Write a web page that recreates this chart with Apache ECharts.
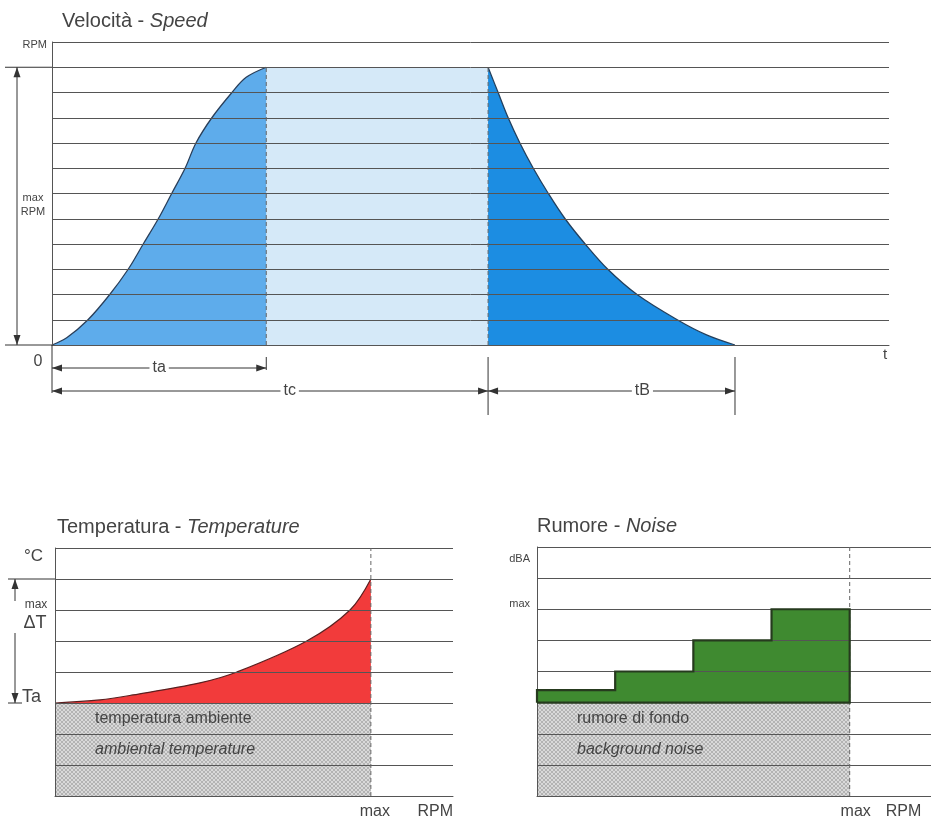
<!DOCTYPE html>
<html>
<head>
<meta charset="utf-8">
<script src="https://cdn.jsdelivr.net/npm/echarts@6/dist/echarts.min.js"></script>
<style>
html,body{margin:0;padding:0;background:#fff;}
#main{width:931px;height:823px;}
</style>
</head>
<body>
<div id="main"></div>
<script>
(function () {
// ---------- DATA ----------
// Speed chart (time axis 0..100, speed axis 0..12 grid steps)
const phaseEdges = [0, 25.6, 52.1, 81.6];      // start, end of ta, end of tc, end of tB
const phaseNames = ['ta', 'tc', 'tB'];
const maxRpmLevel = 11;
const rampCurve = [[0,0],[1.8,0.3],[4.3,1],[6.9,2],[9.1,3],[10.9,4],[12.7,5],[14.3,6],[15.9,7],[17.2,8],[19.1,9],[21.5,10],[23.2,10.6],[25.6,11]];
const decelCurve = [[52.1,11],[53.3,10],[54.5,9],[55.9,8],[57.5,7],[59.3,6],[61.3,5],[63.7,4],[66.4,3],[69.9,2],[74.7,1],[78.2,0.4],[81.6,0]];
const speedLabels = ['RPM', 'max\nRPM', '0', 't'];

// Temperature chart (RPM axis 0..126, max RPM = 100; level axis 0..8)
const maxRpmX = 100;
const ambientLevel = 3;
const tempCurve = [[0,3],[14.2,3.1],[24.7,3.26],[45.9,3.65],[57.6,4],[79.7,5],[93.4,6],[100,7]];
const tempLabels = ['°C', 'max', 'ΔT', 'Ta'];
const tempBandTexts = ['temperatura ambiente', 'ambiental temperature'];

// Noise chart
const backgroundLevel = 3;
const noiseSteps = [[0,3.4],[25,4],[50,5],[75,6],[100,6]];
const noiseLabels = ['dBA', 'max'];
const noiseBandTexts = ['rumore di fondo', 'background noise'];
const rpmAxisTexts = ['max', 'RPM'];

// ---------- STYLE ----------
const FONT = '"Liberation Sans", Arial, sans-serif';
const INK = '#444';
const GRIDC = '#555';

function hatch(base, ink) {
  const c = document.createElement('canvas');
  c.width = c.height = 4;
  const g = c.getContext('2d');
  g.fillStyle = base; g.fillRect(0,0,4,4);
  g.fillStyle = ink;
  for (let i = 0; i < 4; i++) { g.fillRect(i,i,1,1); g.fillRect(3-i,i,1,1); }
  return { image: c, repeat: 'repeat' };
}
const grayHatch = hatch('#d9d9d9', '#b3b3b3');

const chart = echarts.init(document.getElementById('main'), null, { renderer: 'canvas' });

function xAx(gi, max) {
  return { gridIndex: gi, type: 'value', min: 0, max: max, z: 3,
    axisLine: { show: true, onZero: false, lineStyle: { color: GRIDC, width: 1 } },
    axisTick: { show: false }, axisLabel: { show: false }, splitLine: { show: false } };
}
function yAx(gi, max) {
  return { gridIndex: gi, type: 'value', min: 0, max: max, interval: 1, z: 3,
    axisLine: { show: true, lineStyle: { color: GRIDC, width: 1 } },
    axisTick: { show: false }, axisLabel: { show: false },
    splitLine: { show: true, lineStyle: { color: GRIDC, width: 1 } } };
}
function vDash(xi, x, y0, y1) {
  return { type: 'line', xAxisIndex: xi, yAxisIndex: xi, data: [[x, y0], [x, y1]], symbol: 'none', z: 4,
    lineStyle: { color: '#666', width: 1, type: [4, 3] }, silent: true };
}

const noiseOutline = [[0, backgroundLevel]];
noiseSteps.forEach((p, i) => {
  if (i > 0) noiseOutline.push([p[0], noiseSteps[i-1][1]]);
  noiseOutline.push(p);
});
noiseOutline.push([noiseSteps[noiseSteps.length-1][0], backgroundLevel]);
noiseOutline.push([0, backgroundLevel]);

const titleStyle = { fontFamily: FONT, fontSize: 20, fontWeight: 'normal', color: INK,
  rich: { i: { fontFamily: FONT, fontSize: 20, fontStyle: 'italic', color: INK } } };

const option = {
  animation: false,
  backgroundColor: '#fff',
  title: [
    { text: 'Velocità - {i|Speed}', left: 62, top: 11, padding: 0, textStyle: titleStyle },
    { text: 'Temperatura - {i|Temperature}', left: 57, top: 517, padding: 0, textStyle: titleStyle },
    { text: 'Rumore - {i|Noise}', left: 537, top: 516, padding: 0, textStyle: titleStyle }
  ],
  grid: [
    { left: 52, top: 42, width: 837, height: 303 },
    { left: 55, top: 548, width: 398, height: 248 },
    { left: 537, top: 547, width: 394, height: 249 }
  ],
  xAxis: [xAx(0, 100), xAx(1, 126), xAx(2, 126)],
  yAxis: [yAx(0, 12), yAx(1, 8), yAx(2, 8)],
  series: [
    // speed
    { type: 'line', xAxisIndex: 0, yAxisIndex: 0, data: [[phaseEdges[1], maxRpmLevel], [phaseEdges[2], maxRpmLevel]],
      symbol: 'none', lineStyle: { width: 0 }, areaStyle: { color: '#d5e9f8', opacity: 1 }, z: 2 },
    { type: 'line', xAxisIndex: 0, yAxisIndex: 0, data: rampCurve, smooth: 0.35,
      symbol: 'none', lineStyle: { color: '#2a3f5a', width: 1.3 }, areaStyle: { color: '#5eaceb', opacity: 1 }, z: 2 },
    { type: 'line', xAxisIndex: 0, yAxisIndex: 0, data: decelCurve, smooth: 0.35,
      symbol: 'none', lineStyle: { color: '#23405e', width: 1.3 }, areaStyle: { color: '#1c8de2', opacity: 1 }, z: 2 },
    vDash(0, phaseEdges[1], 0, maxRpmLevel),
    vDash(0, phaseEdges[2], 0, maxRpmLevel),
    // temperature
    { type: 'line', xAxisIndex: 1, yAxisIndex: 1, data: [[0, ambientLevel], [maxRpmX, ambientLevel]],
      symbol: 'none', lineStyle: { width: 0 }, areaStyle: { color: grayHatch, opacity: 1 }, z: 2 },
    { type: 'line', xAxisIndex: 1, yAxisIndex: 1, data: tempCurve, smooth: 0.35,
      symbol: 'none', lineStyle: { color: '#5a1f1f', width: 1.2 }, areaStyle: { color: '#f23b3b', opacity: 1, origin: ambientLevel }, z: 2 },
    vDash(1, maxRpmX, 0, 8),
    // noise
    { type: 'line', xAxisIndex: 2, yAxisIndex: 2, data: [[0, backgroundLevel], [maxRpmX, backgroundLevel]],
      symbol: 'none', lineStyle: { width: 0 }, areaStyle: { color: grayHatch, opacity: 1 }, z: 2 },
    { type: 'line', xAxisIndex: 2, yAxisIndex: 2, data: noiseSteps, step: 'end',
      symbol: 'none', lineStyle: { width: 0 }, areaStyle: { color: '#3f8a30', opacity: 1, origin: backgroundLevel }, z: 2 },
    vDash(2, maxRpmX, 0, 8),
    { type: 'line', xAxisIndex: 2, yAxisIndex: 2, data: noiseOutline,
      symbol: 'none', lineStyle: { color: '#263a1e', width: 2.2, join: 'miter' }, z: 5 }
  ]
};
chart.setOption(option);

// ---------- ANNOTATIONS (positions via the chart's own scales) ----------
function P(gi, x, y) { return chart.convertToPixel({ gridIndex: gi }, [x, y]); }
const G = [];
const LC = '#333';
function line(x1, y1, x2, y2, w) {
  G.push({ type: 'line', z: 10, shape: { x1, y1, x2, y2 }, style: { stroke: LC, lineWidth: w || 1 } });
}
function head(x, y, dir) {
  const L = 10, H = 3.5;
  let pts;
  if (dir === 'left') pts = [[x, y], [x + L, y - H], [x + L, y + H]];
  if (dir === 'right') pts = [[x, y], [x - L, y - H], [x - L, y + H]];
  if (dir === 'up') pts = [[x, y], [x - H, y + L], [x + H, y + L]];
  if (dir === 'down') pts = [[x, y], [x - H, y - L], [x + H, y - L]];
  G.push({ type: 'polygon', z: 10, shape: { points: pts }, style: { fill: LC } });
}
function text(x, y, t, size, align, opts) {
  G.push({ type: 'text', z: 11, x, y, style: Object.assign({ text: t, fontSize: size, fontFamily: FONT, fill: INK,
    align: align || 'left', verticalAlign: 'middle' }, opts || {}) });
}

// speed chart
const o = P(0, 0, 0), sTop = P(0, 0, 12), m = P(0, 0, maxRpmLevel);
const xa = P(0, phaseEdges[1], 0)[0], xc = P(0, phaseEdges[2], 0)[0], xb = P(0, phaseEdges[3], 0)[0];
const sRight = P(0, 100, 0)[0];
const yb = o[1];
line(5, m[1], o[0], m[1]);
line(5, yb, o[0], yb);
line(17, m[1], 17, yb);
head(17, m[1], 'up'); head(17, yb, 'down');
text(47, sTop[1] + 3, speedLabels[0], 11, 'right');
text(33, (m[1] + yb) / 2 - 1, speedLabels[1], 11, 'center', { lineHeight: 14 });
text(38, yb + 17, speedLabels[2], 16, 'center');
text(sRight - 4, yb + 10, speedLabels[3], 15, 'center');
const ya = yb + 23, yc = yb + 46;
line(o[0], yb, o[0], yc + 2);
line(o[0], ya, xa, ya); head(o[0], ya, 'left'); head(xa, ya, 'right');
line(xa, yb + 12, xa, ya + 2);
line(o[0], yc, xc, yc); head(o[0], yc, 'left'); head(xc, yc, 'right');
line(xc, yb + 12, xc, yb + 70);
line(xc, yc, xb, yc); head(xc, yc, 'left'); head(xb, yc, 'right');
line(xb, yb + 12, xb, yb + 70);
const labelX = [ (o[0] + xa) / 2, o[0] + (xc - o[0]) * 0.545, xc + (xb - xc) * 0.625 ];
text(labelX[0], ya, phaseNames[0], 16, 'center', { backgroundColor: '#fff', padding: [0, 3] });
text(labelX[1], yc, phaseNames[1], 16, 'center', { backgroundColor: '#fff', padding: [0, 3] });
text(labelX[2], yc, phaseNames[2], 16, 'center', { backgroundColor: '#fff', padding: [0, 3] });

// temperature chart
const t0 = P(1, 0, 0), tTop = P(1, 0, 8), tMax = P(1, 0, tempCurve[tempCurve.length - 1][1]), tA = P(1, 0, ambientLevel);
const tRpm = P(1, maxRpmX, 0), tRight = P(1, 126, 0)[0];
line(8, tMax[1], t0[0], tMax[1]);
line(15, tMax[1], 15, tMax[1] + 22); head(15, tMax[1], 'up');
line(15, tA[1] - 70, 15, tA[1]); head(15, tA[1], 'down');
line(8, tA[1], 22, tA[1]);
text(43, tTop[1] + 8, tempLabels[0], 17, 'right');
text(36, tMax[1] + 26, tempLabels[1], 12, 'center');
text(35, tMax[1] + 44, tempLabels[2], 18, 'center');
text(22, tA[1] - 6, tempLabels[3], 18, 'left');
const band1 = P(1, 0, 2.5)[1], band2 = P(1, 0, 1.5)[1];
text(95, band1, tempBandTexts[0], 16, 'left');
text(95, band2, tempBandTexts[1], 16, 'left', { fontStyle: 'italic' });
text(tRpm[0] + 4, t0[1] + 16, rpmAxisTexts[0], 16, 'center');
text(tRight, t0[1] + 16, rpmAxisTexts[1], 16, 'right');

// noise chart
const n0 = P(2, 0, 0), nTop = P(2, 0, 8), nMax = P(2, 0, 6), nRpm = P(2, maxRpmX, 0);
text(530, nTop[1] + 12, noiseLabels[0], 11, 'right');
text(530, nMax[1] - 5, noiseLabels[1], 11, 'right');
const nb1 = P(2, 0, 2.5)[1], nb2 = P(2, 0, 1.5)[1];
text(577, nb1, noiseBandTexts[0], 16, 'left');
text(577, nb2, noiseBandTexts[1], 16, 'left', { fontStyle: 'italic' });
text(nRpm[0] + 6, n0[1] + 16, rpmAxisTexts[0], 16, 'center');
text(nRpm[0] + 36, n0[1] + 16, rpmAxisTexts[1], 16, 'left');

chart.setOption({ graphic: G });
})();
</script>
</body>
</html>
